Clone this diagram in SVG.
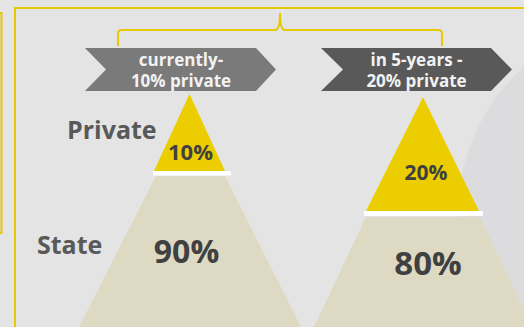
<svg xmlns="http://www.w3.org/2000/svg" width="524" height="327" viewBox="0 0 524 327">
  <style>
    .frame{fill:none;stroke:#e6c700;stroke-width:2}
    .chev-t{font-family:"Open Sans","Liberation Sans",sans-serif;font-weight:bold;font-size:17px;fill:#f2f2f2;text-anchor:middle}
    .pct{font-family:"Open Sans","Liberation Sans",sans-serif;font-weight:bold;fill:#404040;text-anchor:middle}
    .lbl{font-family:"Open Sans","Liberation Sans",sans-serif;font-weight:bold;font-size:25px;fill:#595959}
    .yel{fill:#eccd00}
    .tan{fill:#ddd9c3}
    .bar{fill:#ffffff}
  </style>
  <rect width="524" height="327" fill="#e4e4e4"/>
  <circle cx="662" cy="218" r="205" fill="#dcdcde"/>

  <g id="frames">
    <path class="frame" d="M0,13 H1.5 V233 H0"/>
    <path class="frame" d="M15,327 V8 H524"/>
  </g>

  <g id="connectors">
    <path class="frame" d="M118,46 V34 Q118,30 122,30 H275 Q280,30 280,13 Q280,30 285,30 H438 Q442,30 442,34 V46"/>
  </g>

  <g id="chevron-current">
    <polygon points="85,48 256,48 276,69.5 256,91 85,91 106,69.5" fill="#7a7a7a"/>
    <text class="chev-t" x="181" y="66">currently-</text>
    <text class="chev-t" x="181" y="87">10% private</text>
  </g>

  <g id="chevron-future">
    <polygon points="321,48 491,48 512,69.5 491,91 321,91 343,69.5" fill="#595959"/>
    <text class="chev-t" x="416.5" y="66">in 5-years -</text>
    <text class="chev-t" x="416.5" y="87">20% private</text>
  </g>

  <g id="pyramid-current">
    <polygon class="tan" points="156,176 225,176 301,327 79,327"/>
    <rect class="bar" x="153" y="171" width="78" height="4.5"/>
    <polygon class="yel" points="189.5,94 225,171 154,171"/>
    <text class="pct" x="190.5" y="160" font-size="22">10%</text>
    <text class="pct" x="186.5" y="263" font-size="32">90%</text>
  </g>

  <g id="pyramid-future">
    <polygon class="tan" points="366,217 480,217 532,327 314,327"/>
    <rect class="bar" x="364" y="211" width="119" height="5"/>
    <polygon class="yel" points="423,97 479,211 366,211"/>
    <text class="pct" x="426" y="180" font-size="21">20%</text>
    <text class="pct" x="428" y="275" font-size="33">80%</text>
  </g>

  <g id="labels">
    <text class="lbl" x="67" y="139">Private</text>
    <text class="lbl" x="37" y="254">State</text>
  </g>
</svg>
